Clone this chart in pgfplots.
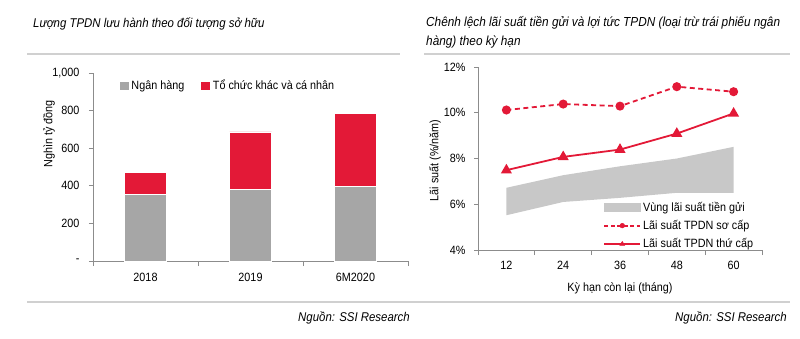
\documentclass[border=0pt]{standalone}
\usepackage{fontspec}
\setmainfont{Liberation Sans}[FakeStretch=0.9]
\usepackage{pgfplots}
\pgfplotsset{compat=1.18}
\definecolor{ssired}{RGB}{227,25,55}
\definecolor{barGray}{RGB}{166,166,166}
\definecolor{bandGray}{RGB}{200,200,200}
\definecolor{axGray}{RGB}{140,140,140}
\definecolor{ruleGray}{RGB}{208,208,208}
\newcommand{\tf}{\fontsize{12}{14}\selectfont}
\newcommand{\ttlf}{\fontsize{12.7}{14}\selectfont\itshape}
\begin{document}
\begin{tikzpicture}
\path (0pt,0pt) rectangle (800pt,338pt);
% titles
\node[anchor=base west, inner sep=0, font=\ttlf] at (33pt,310pt) {Lượng TPDN lưu hành theo đối tượng sở hữu};
\node[anchor=base west, inner sep=0, font=\fontsize{13.1}{14}\selectfont\itshape] at (426pt,311pt) {Chênh lệch lãi suất tiền gửi và lợi tức TPDN (loại trừ trái phiếu ngân};
\node[anchor=base west, inner sep=0, font=\fontsize{13.1}{14}\selectfont\itshape] at (426pt,292pt) {hàng) theo kỳ hạn};
% rules
\draw[ruleGray, line width=1.5pt] (27pt,284pt) -- (400pt,284pt);
\draw[ruleGray, line width=1.5pt] (424pt,284pt) -- (790pt,284pt);
\draw[ruleGray, line width=1.5pt] (27pt,36pt) -- (790pt,36pt);
% sources
\node[anchor=base east, inner sep=0, font=\ttlf] at (410pt,17pt) {Nguồn: SSI Research};
\node[anchor=base east, inner sep=0, font=\ttlf] at (787pt,17pt) {Nguồn: SSI Research};

\begin{axis}[
  at={(93pt,77pt)}, anchor=south west,
  scale only axis, width=315pt, height=188pt,
  xmin=-0.5, xmax=2.5, ymin=0, ymax=1000,
  axis x line*=bottom, axis y line*=left,
  axis line style={axGray, line width=1pt},
  ytick={0,200,400,600,800,1000},
  yticklabels={-,200,400,600,800,{1,000}},
  xtick={0,1,2}, xticklabels={2018,2019,6M2020},
  minor xtick={-0.5,0.5,1.5,2.5},
  major x tick style={draw=none},
  tick align=outside, major tick length=4pt, minor tick length=5pt,
  tick style={axGray, line width=0.8pt},
  ticklabel style={font=\tf},
  xticklabel style={yshift=-5pt},
  yticklabel style={xshift=-6pt},
  ybar stacked, bar width=42pt,
  ylabel={Nghìn tỷ đồng},
  ylabel style={font=\tf, at={(axis description cs:-0.14,0.675)}, anchor=center},
  legend columns=2,
  legend style={draw=none, fill=none, font=\tf, at={(axis description cs:0.072,0.985)}, anchor=north west,
    /tikz/every even column/.append style={column sep=14pt}},
  legend image code/.code={\fill[#1] (0pt,-4.5pt) rectangle (10pt,4.5pt);},
]
\addplot[fill=barGray, draw=white, line width=0.6pt] coordinates {(0,354) (1,379) (2,398)};
\addplot[fill=ssired, draw=white, line width=0.6pt] coordinates {(0,119) (1,308) (2,386)};
\legend{Ngân hàng, Tổ chức khác và cá nhân}
\end{axis}

\begin{axis}[
  at={(478pt,88pt)}, anchor=south west,
  scale only axis, width=284pt, height=183pt,
  xmin=6, xmax=66, ymin=4, ymax=12,
  axis x line*=bottom, axis y line*=left,
  axis line style={axGray, line width=1pt},
  ytick={4,6,8,10,12},
  yticklabels={4\%,6\%,8\%,10\%,12\%},
  xtick={12,24,36,48,60}, xticklabels={12,24,36,48,60},
  minor xtick={6,18,30,42,54,66},
  major x tick style={draw=none},
  tick align=outside, major tick length=4pt, minor tick length=5pt,
  tick style={axGray, line width=0.8pt},
  ticklabel style={font=\tf},
  xticklabel style={yshift=-4pt},
  yticklabel style={xshift=-5pt},
  xlabel={Kỳ hạn còn lại (tháng)},
  xlabel style={font=\tf, at={(axis description cs:0.5,-0.21)}, anchor=center},
  ylabel={Lãi suất (\%/năm)},
  ylabel style={font=\tf, at={(axis description cs:-0.151,0.49)}, anchor=center},
  legend cell align=left,
  legend style={draw=none, fill=none, font=\tf, at={(axis description cs:0.43,0.285)}, anchor=north west, row sep=3.5pt},
]
\addplot[fill=bandGray, draw=none, forget plot] coordinates {(12,6.72) (24,7.27) (36,7.66) (48,8.0) (60,8.51) (60,6.5) (48,6.5) (36,6.28) (24,6.1) (12,5.52)} -- cycle;
\addplot[ssired, line width=1.8pt, dash pattern=on 5pt off 3.5pt, mark=*, mark size=3.6pt, mark options={solid}, forget plot] coordinates {(12,10.12) (24,10.38) (36,10.29) (48,11.14) (60,10.92)};
\addplot[ssired, line width=1.8pt, mark=triangle*, mark size=4.6pt, mark options={solid}, forget plot] coordinates {(12,7.49) (24,8.07) (36,8.39) (48,9.09) (60,9.97)};
\addlegendimage{legend image code/.code={\fill[bandGray] (0pt,-4pt) rectangle (36pt,4pt);}}
\addlegendentry{Vùng lãi suất tiền gửi}
\addlegendimage{legend image code/.code={\draw[ssired, line width=1.9pt, dash pattern=on 4pt off 2.5pt] (0pt,0pt) -- (36pt,0pt); \fill[ssired] (18pt,0pt) circle (2.4pt);}}
\addlegendentry{Lãi suất TPDN sơ cấp}
\addlegendimage{legend image code/.code={\draw[ssired, line width=1.7pt] (0pt,0pt) -- (36pt,0pt); \fill[ssired] (15.5pt,-1.5pt) -- (20.5pt,-1.5pt) -- (18pt,2.5pt) -- cycle;}}
\addlegendentry{Lãi suất TPDN thứ cấp}
\end{axis}
\end{tikzpicture}
\end{document}
